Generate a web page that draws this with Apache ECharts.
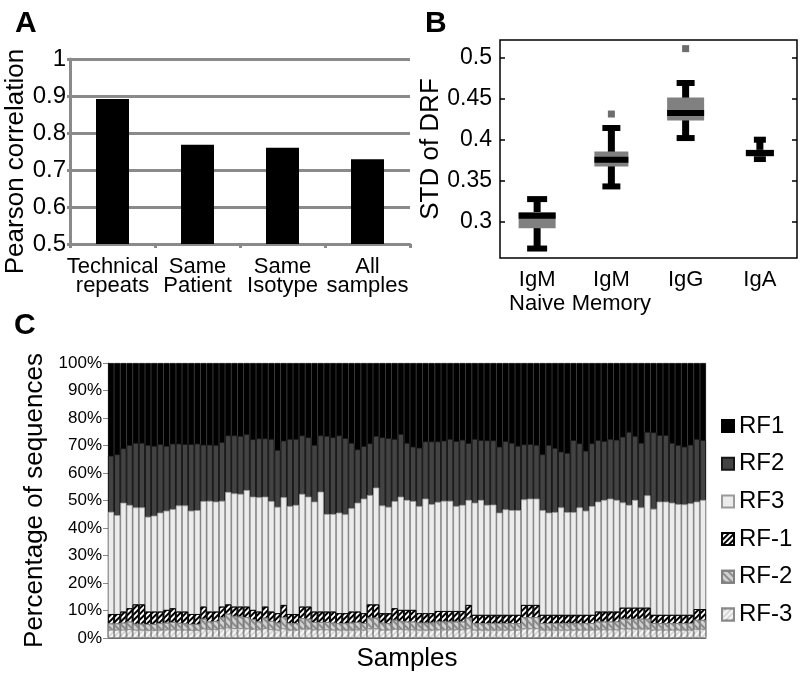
<!DOCTYPE html>
<html><head><meta charset="utf-8">
<script src="https://cdn.jsdelivr.net/npm/echarts@6/dist/echarts.min.js"></script>
<style>html,body{margin:0;padding:0;background:#fff}#c{width:800px;height:680px}</style>
</head><body><div id="c"></div>
<script>
// ---------- Panel A ----------
const corrCategories = ['Technical\nrepeats', 'Same\nPatient', 'Same\nIsotype', 'All\nsamples'];
const corrValues = [0.892, 0.768, 0.760, 0.729];

// ---------- Panel B ----------
const isoCategories = ['IgM\nNaive', 'IgM\nMemory', 'IgG', 'IgA'];
const boxMin    = [0.2675, 0.3430, 0.4018, 0.3763];
const boxQ1     = [0.2923, 0.3672, 0.4232, 0.3795];
const boxMedian = [0.3073, 0.3754, 0.4322, 0.3836];
const boxQ3     = [0.3118, 0.3855, 0.4512, 0.3876];
const boxMax    = [0.3276, 0.4140, 0.4687, 0.3998];
const outlierCat = [1, 2];
const outlierVal = [0.431, 0.5105];
const stdTicks = [0.3, 0.35, 0.4, 0.45, 0.5];

// ---------- Panel C (cumulative top of each reading frame, %) ----------
const samples = Array.from({length: 97}, (_, i) => 'S' + (i + 1));
const cumRF1 = [100,100,100,100,100,100,100,100,100,100,100,100,100,100,100,100,100,100,100,100,
 100,100,100,100,100,100,100,100,100,100,100,100,100,100,100,100,100,100,100,100,
 100,100,100,100,100,100,100,100,100,100,100,100,100,100,100,100,100,100,100,100,
 100,100,100,100,100,100,100,100,100,100,100,100,100,100,100,100,100,100,100,100,
 100,100,100,100,100,100,100,100,100,100,100,100,100,100,100,100,100];
const cumRF2 = [66.3,66.8,69.0,70.2,71.0,71.0,70.2,69.9,70.5,69.9,
 70.7,70.7,70.5,70.5,70.7,70.3,70.3,70.2,71.2,73.7,
 73.7,73.5,74.1,72.3,72.6,72.6,72.4,68.4,71.8,72.4,
 72.4,73.7,73.0,70.2,73.7,73.5,73.0,73.7,72.7,71.0,
 68.6,69.8,70.8,73.5,73.0,72.7,72.4,74.2,71.0,69.6,
 69.2,71.5,71.5,71.5,71.8,72.4,71.6,72.1,70.9,72.4,
 72.0,71.9,71.9,69.6,71.6,71.0,69.9,70.4,70.5,70.2,
 66.8,70.2,69.1,67.8,67.3,72.0,70.8,68.1,70.8,72.0,
 71.6,72.4,72.1,73.2,75.0,73.5,71.0,75.0,74.8,73.8,
 73.8,71.0,70.2,69.6,70.3,72.4,72.0];
const cumRF3 = [45.9,44.7,49.2,48.4,47.5,47.5,44.1,44.5,45.6,46.3,
 46.9,48.2,48.2,46.3,46.5,49.8,49.9,49.6,49.9,53.1,
 52.6,52.4,53.8,51.4,51.2,51.4,49.8,47.7,51.2,48.0,
 48.4,52.4,51.4,49.6,53.2,45.1,45.1,45.6,45.0,47.2,
 49.2,50.7,52.0,54.7,48.2,47.7,49.8,51.4,50.2,49.8,
 48.0,50.7,48.7,49.5,49.9,49.9,48.0,48.4,50.2,49.2,
 50.2,48.4,48.5,45.6,46.8,46.5,46.5,50.4,50.7,50.7,
 46.5,45.6,45.8,47.5,45.8,45.8,47.5,46.3,48.0,49.6,
 50.2,50.7,50.2,49.3,48.4,50.2,47.5,51.9,47.0,49.6,
 49.6,49.2,48.7,48.6,49.0,49.6,50.2];
const cumRFm1 = [8.7,8.7,9.6,10.8,12.2,12.2,9.6,9.6,9.6,10.2,
 10.8,9.6,9.6,8.7,8.7,11.4,9.6,9.6,11.4,12.2,
 11.4,11.4,11.4,10.2,9.6,11.4,9.6,9.0,12.0,8.7,
 8.7,11.4,11.4,9.6,9.6,9.6,9.6,9.0,9.0,9.6,
 9.6,9.0,12.2,12.2,9.0,9.0,10.8,10.2,10.2,10.2,
 9.0,9.0,9.0,9.8,9.8,9.8,9.8,9.8,12.0,8.4,
 8.4,8.4,8.4,8.4,8.4,8.4,8.4,12.0,12.0,12.0,
 8.4,8.4,8.4,8.4,8.4,8.4,8.4,8.4,8.4,9.6,
 9.6,9.6,9.6,11.0,11.0,11.0,11.0,11.0,8.4,8.4,
 8.4,8.4,8.4,8.4,8.4,10.5,10.5];
const cumRFm2 = [5.3,5.3,5.6,6.0,5.2,5.2,5.1,5.1,5.4,5.6,
 5.8,5.5,5.3,5.1,5.1,7.0,6.0,6.2,7.5,8.8,
 8.0,7.8,7.6,6.8,6.0,7.4,6.2,5.6,7.6,5.4,
 5.4,7.2,7.0,5.8,5.8,5.8,5.6,5.4,5.4,5.6,
 5.8,5.4,7.4,7.4,5.6,5.4,6.6,6.2,6.0,6.0,
 5.6,5.6,5.6,6.0,6.0,6.0,6.0,6.0,7.4,5.4,
 5.4,5.4,5.4,5.4,5.4,5.4,5.4,7.6,7.6,7.6,
 5.4,5.4,5.4,5.4,5.4,5.4,5.4,5.4,5.4,6.0,
 6.0,6.0,6.0,7.0,7.0,7.0,7.0,7.0,5.4,5.4,
 5.4,5.4,5.4,5.4,5.4,6.6,6.6];
const cumRFm3 = [3.0,3.0,3.0,3.2,3.0,3.0,2.9,2.9,3.0,3.1,
 3.1,3.0,3.0,2.9,2.9,3.4,3.2,3.2,3.5,3.8,
 3.6,3.6,3.5,3.3,3.1,3.5,3.2,3.0,3.5,3.0,
 3.0,3.4,3.4,3.1,3.1,3.1,3.0,3.0,3.0,3.0,
 3.1,3.0,3.5,3.5,3.0,3.0,3.3,3.2,3.1,3.1,
 3.0,3.0,3.0,3.1,3.1,3.1,3.1,3.1,3.5,3.0,
 3.0,3.0,3.0,3.0,3.0,3.0,3.0,3.5,3.5,3.5,
 3.0,3.0,3.0,3.0,3.0,3.0,3.0,3.0,3.0,3.1,
 3.1,3.1,3.1,3.4,3.4,3.4,3.4,3.4,3.0,3.0,
 3.0,3.0,3.0,3.0,3.0,3.3,3.3];

// ---------- styles ----------
const FONT = "'Liberation Sans', Arial, sans-serif";
const GRAY = '#8a8a8a';
const boxWidths = [37, 34, 37, 28];
const capWidths = [20, 18, 18, 12];

const chart = echarts.init(document.getElementById('c'), null, {renderer: 'canvas'});

const boxData = isoCategories.map((c, i) => [i, boxMin[i], boxQ1[i], boxMedian[i], boxQ3[i], boxMax[i]]);
const outlierData = outlierCat.map((c, i) => [c, outlierVal[i]]);

function rfSeries(name, data, color, border, decal) {
  const s = {
    name, type: 'bar', data, xAxisIndex: 2, yAxisIndex: 2,
    barCategoryGap: '0%', barGap: '-100%',
    itemStyle: {color, borderColor: border, borderWidth: 0.8},
    emphasis: {disabled: true}
  };
  if (decal) s.itemStyle.decal = decal;
  return s;
}

const option = {
  animation: false,
  textStyle: {fontFamily: FONT, color: '#000'},
  title: [
    {text: 'A', left: 10, top: 4, textStyle: {fontSize: 30, fontWeight: 'bold', fontFamily: FONT, color: '#000'}},
    {text: 'B', left: 420, top: 4, textStyle: {fontSize: 30, fontWeight: 'bold', fontFamily: FONT, color: '#000'}},
    {text: 'C', left: 9, top: 306, textStyle: {fontSize: 30, fontWeight: 'bold', fontFamily: FONT, color: '#000'}}
  ],
  legend: {
    orient: 'vertical', left: 716, top: 409,
    data: ['RF1', 'RF2', 'RF3', 'RF-1', 'RF-2', 'RF-3'],
    icon: 'rect', itemWidth: 12, itemHeight: 12, itemGap: 13.7,
    textStyle: {fontSize: 24, lineHeight: 24, fontFamily: FONT, color: '#000'},
    selectedMode: false
  },
  grid: [
    {left: 70, top: 59, width: 340, height: 185},
    {left: 500, top: 40, width: 297, height: 218, show: true, borderColor: '#000', borderWidth: 1.5, backgroundColor: 'transparent'},
    {left: 108, top: 363, width: 598, height: 275}
  ],
  xAxis: [
    {gridIndex: 0, type: 'category', data: corrCategories,
     axisLine: {lineStyle: {color: GRAY, width: 3}},
     axisTick: {show: true, length: 4, lineStyle: {color: GRAY, width: 3}},
     axisLabel: {fontSize: 22, lineHeight: 19, margin: 13, color: '#000', fontFamily: FONT, interval: 0}},
    {gridIndex: 1, type: 'category', data: isoCategories,
     axisLine: {show: false}, axisTick: {show: false},
     axisLabel: {fontSize: 22, lineHeight: 24, margin: 10, color: '#000', fontFamily: FONT, interval: 0}},
    {gridIndex: 2, type: 'category', data: samples,
     name: 'Samples', nameLocation: 'middle', nameGap: 8,
     nameTextStyle: {fontSize: 26, color: '#000', fontFamily: FONT, verticalAlign: 'top'},
     axisLine: {lineStyle: {color: GRAY, width: 1}}, axisTick: {show: false}, axisLabel: {show: false}}
  ],
  yAxis: [
    {gridIndex: 0, type: 'value', min: 0.5, max: 1, interval: 0.1,
     name: 'Pearson correlation', nameLocation: 'middle', nameGap: 39, nameRotate: 90,
     nameTextStyle: {fontSize: 26, color: '#000', fontFamily: FONT, padding: [0, 20, 0, 0]},
     axisLine: {show: true, lineStyle: {color: GRAY, width: 3}},
     axisTick: {show: true, length: 3, lineStyle: {color: GRAY, width: 3}},
     splitLine: {show: true, lineStyle: {color: GRAY, width: 3}},
     axisLabel: {fontSize: 24, color: '#000', fontFamily: FONT, margin: 4}},
    {gridIndex: 1, type: 'value', min: 0.256, max: 0.521,
     name: 'STD of DRF', nameLocation: 'middle', nameGap: 49, nameRotate: 90,
     nameTextStyle: {fontSize: 26, color: '#000', fontFamily: FONT},
     axisLine: {show: false},
     axisTick: {show: true, inside: true, length: 5, customValues: stdTicks, lineStyle: {color: '#000', width: 1.5}},
     splitLine: {show: false},
     axisLabel: {fontSize: 23, color: '#000', fontFamily: FONT, margin: 8, customValues: stdTicks}},
    {gridIndex: 2, type: 'value', min: 0, max: 100, interval: 10,
     name: 'Percentage of sequences', nameLocation: 'middle', nameGap: 60, nameRotate: 90,
     nameTextStyle: {fontSize: 26, color: '#000', fontFamily: FONT},
     axisLine: {show: true, lineStyle: {color: GRAY, width: 1}},
     axisTick: {show: true, length: 5, lineStyle: {color: GRAY}},
     splitLine: {show: false},
     axisLabel: {fontSize: 17, color: '#000', fontFamily: FONT, margin: 6, formatter: '{value}%'}},
    {gridIndex: 1, type: 'value', min: 0.256, max: 0.521, position: 'right',
     axisLine: {show: false},
     axisTick: {show: true, inside: true, length: 5, customValues: stdTicks, lineStyle: {color: '#000', width: 1.5}},
     splitLine: {show: false},
     axisLabel: {show: false, customValues: stdTicks}}
  ],
  series: [
    {type: 'bar', data: corrValues, xAxisIndex: 0, yAxisIndex: 0, barWidth: 33,
     itemStyle: {color: '#000'}, emphasis: {disabled: true}},
    {type: 'custom', xAxisIndex: 1, yAxisIndex: 1, data: boxData, z: 5,
     renderItem: function (params, api) {
       const i = params.dataIndex;
       const x = api.value(0);
       const pMin = api.coord([x, api.value(1)]);
       const pQ1 = api.coord([x, api.value(2)]);
       const pMed = api.coord([x, api.value(3)]);
       const pQ3 = api.coord([x, api.value(4)]);
       const pMax = api.coord([x, api.value(5)]);
       const cx = pMin[0];
       const bw = boxWidths[i], cw = capWidths[i];
       return {type: 'group', children: [
         {type: 'line', shape: {x1: cx, y1: pMin[1], x2: cx, y2: pMax[1]}, style: {stroke: '#000', lineWidth: 7}},
         {type: 'line', shape: {x1: cx - cw / 2, y1: pMax[1], x2: cx + cw / 2, y2: pMax[1]}, style: {stroke: '#000', lineWidth: 6}},
         {type: 'line', shape: {x1: cx - cw / 2, y1: pMin[1], x2: cx + cw / 2, y2: pMin[1]}, style: {stroke: '#000', lineWidth: 6}},
         {type: 'rect', shape: {x: cx - bw / 2, y: pQ3[1], width: bw, height: pQ1[1] - pQ3[1]}, style: {fill: '#808080'}},
         {type: 'line', shape: {x1: cx - bw / 2, y1: pMed[1], x2: cx + bw / 2, y2: pMed[1]}, style: {stroke: '#000', lineWidth: 6}}
       ]};
     }},
    {type: 'scatter', xAxisIndex: 1, yAxisIndex: 1, data: outlierData, symbol: 'rect', symbolSize: 7,
     itemStyle: {color: '#4a4a4a'}, emphasis: {disabled: true}},
    rfSeries('RF1', cumRF1, '#000000', '#000000'),
    rfSeries('RF2', cumRF2, '#434343', '#151515'),
    rfSeries('RF3', cumRF3, '#ececec', '#9a9a9a'),
    rfSeries('RF-1', cumRFm1, '#ffffff', '#000000',
      {color: '#000', dashArrayX: [1, 0], dashArrayY: [2, 2], rotation: -Math.PI / 4, symbolSize: 1}),
    rfSeries('RF-2', cumRFm2, '#d2d2d2', '#808080',
      {color: '#8c8c8c', dashArrayX: [1, 0], dashArrayY: [1.2, 2.3], rotation: Math.PI / 4, symbolSize: 1}),
    rfSeries('RF-3', cumRFm3, '#d8d8d8', '#8a8a8a',
      {color: '#f6f6f6', dashArrayX: [1, 0], dashArrayY: [1.5, 2], rotation: -Math.PI / 4, symbolSize: 1})
  ]
};
chart.setOption(option);
</script></body></html>
